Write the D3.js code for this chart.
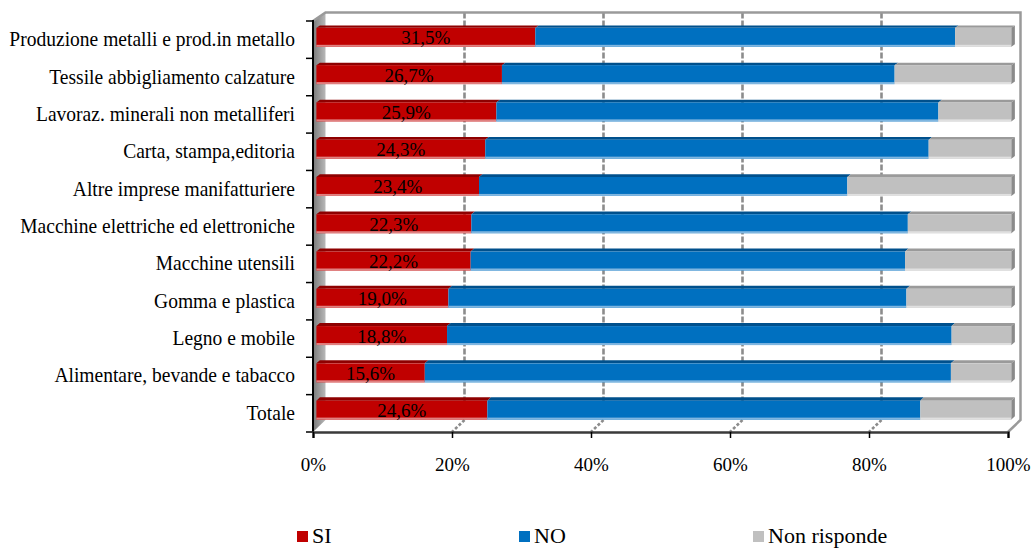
<!DOCTYPE html>
<html>
<head>
<meta charset="utf-8">
<script src="https://cdn.jsdelivr.net/npm/d3@7"></script>
<style>
  body { margin: 0; background: #fff; }
  svg { display: block; }
  text { font-family: "Liberation Serif", "Times New Roman", serif; fill: #000; }
</style>
</head>
<body>
<svg id="chart" width="1032" height="549"></svg>
<script>
// Sectors, top to bottom
const categories = [
  "Produzione metalli e prod.in metallo",
  "Tessile abbigliamento calzature",
  "Lavoraz. minerali non metalliferi",
  "Carta, stampa,editoria",
  "Altre imprese manifatturiere",
  "Macchine elettriche ed elettroniche",
  "Macchine utensili",
  "Gomma e plastica",
  "Legno e mobile",
  "Alimentare, bevande e tabacco",
  "Totale"
];
// Shares (%) of answers per sector
const si  = [31.5, 26.7, 25.9, 24.3, 23.4, 22.3, 22.2, 19.0, 18.8, 15.6, 24.6];
const no  = [60.4, 56.5, 63.6, 63.8, 53.0, 62.8, 62.5, 65.9, 72.6, 75.7, 62.3];
const nr  = [ 8.1, 16.8, 10.5, 11.9, 23.6, 14.9, 15.3, 15.1,  8.6,  8.7, 13.1];
const seriesNames = ["SI", "NO", "Non risponde"];
const tickValues = [0, 20, 40, 60, 80, 100];
const tickLabels = ["0%", "20%", "40%", "60%", "80%", "100%"];

const colors = {
  front: ["#C00000", "#0070C0", "#C0C0C0"],
  top:   ["#8E0000", "#00508C", "#9A9A9A"],
  lite:  ["#E08080", "#7FB6E0", "#E0E0E0"],
  side:  "#8A8A8A"
};

const svg = d3.select("#chart");
const x = d3.scaleLinear().domain([0, 100]).range([313, 1008]);
const y = d3.scaleBand().domain(categories).range([21, 432]);

// depth offset of the box (back plane relative to front plane), slightly perspective in y
const DX = 12.5;
const depthDy = yy => -8.5 - 3.5 * (yy - 21) / 411;
const P = (xx, yy, d) => [xx + d * DX, yy + d * depthDy(yy)];

const yTop = 21, yBot = 432;
const x0 = x(0), x1 = x(100);

// gradient for left side wall
const defs = svg.append("defs");
const g1 = defs.append("linearGradient").attr("id", "wallGrad").attr("x1", 0).attr("x2", 1).attr("y1", 0).attr("y2", 0);
g1.append("stop").attr("offset", "0%").attr("stop-color", "#7a7a7a");
g1.append("stop").attr("offset", "100%").attr("stop-color", "#b8b8b8");

const poly = pts => pts.map(p => p.join(",")).join(" ");

// left side wall
svg.append("polygon")
  .attr("points", poly([[x0, yTop], P(x0, yTop, 1), P(x0, yBot, 1), [x0, yBot]]))
  .attr("fill", "url(#wallGrad)");

// back wall gridlines (dashed) and their trace across the floor
const grid = svg.append("g").attr("stroke", "#8c8c8c").attr("stroke-width", 2.6)
  .attr("stroke-dasharray", "6,2").attr("fill", "none");
tickValues.filter(v => v > 0 && v < 100).forEach(v => {
  const a = P(x(v), yTop, 1), b = P(x(v), yBot, 1);
  grid.append("line").attr("x1", a[0]).attr("y1", a[1]).attr("x2", b[0]).attr("y2", b[1]);
  grid.append("line").attr("x1", b[0]).attr("y1", b[1]).attr("x2", x(v)).attr("y2", yBot)
    .attr("stroke-dasharray", "3,2");
});

// back wall frame: top edge, right edge, floor-right diagonal
const frame = svg.append("g").attr("stroke", "#9a9a9a").attr("fill", "none");
frame.append("polyline").attr("stroke-width", 2.5)
  .attr("points", poly([[x0, yTop], P(x0, yTop, 1), P(x1, yTop, 1), P(x1, yBot, 1), [x1, yBot]]));

// stacked bars
const rows = categories.map((c, i) => {
  const vals = [si[i], no[i], nr[i]];
  let acc = 0;
  return vals.map((v, k) => { const s = { cat: c, k, a: acc, b: acc + v, v }; acc += v; return s; });
});

const d0 = 0.27, d1 = 0.55, barH = 19;
const bars = svg.append("g");
rows.forEach(segs => {
  const yc = y(segs[0].cat) + y.bandwidth() / 2;
  const yt = yc - barH / 2, yb = yc + barH / 2;
  segs.forEach((s, idx) => {
    const fa = P(x(s.a), yt, d0), fb = P(x(s.b), yt, d0);
    const ba = P(x(s.a), yt, d1), bb = P(x(s.b), yt, d1);
    const fbB = P(x(s.b), yb, d0);
    // top face
    bars.append("polygon").attr("points", poly([fa, fb, bb, ba])).attr("fill", colors.top[s.k]);
    // front face
    bars.append("rect")
      .attr("x", fa[0]).attr("y", fa[1])
      .attr("width", fb[0] - fa[0]).attr("height", fbB[1] - fb[1])
      .attr("fill", colors.front[s.k]);
    // light lower edge
    bars.append("rect")
      .attr("x", fa[0]).attr("y", fbB[1] - 2)
      .attr("width", fb[0] - fa[0]).attr("height", 2)
      .attr("fill", colors.lite[s.k]);
    // right end face on the last segment
    if (idx === segs.length - 1) {
      const bbB = P(x(s.b), yb, d1);
      bars.append("polygon").attr("points", poly([fb, bb, bbB, fbB])).attr("fill", colors.side);
    }
  });
  // value label on the SI segment
  const s = segs[0];
  const la = P(x(s.a), yc, d0), lb = P(x(s.b), yc, d0);
  bars.append("text")
    .attr("x", (la[0] + lb[0]) / 2)
    .attr("y", la[1] + 7)
    .attr("text-anchor", "middle")
    .style("font-size", "19px")
    .text(s.v.toFixed(1).replace(".", ",") + "%");
});

// category axis (left)
svg.append("line").attr("x1", x0).attr("x2", x0).attr("y1", yTop - 1).attr("y2", yBot)
  .attr("stroke", "#000").attr("stroke-width", 2);
const boundaries = categories.map(c => y(c)).concat([yBot]);
svg.append("g").selectAll("line").data(boundaries).join("line")
  .attr("x1", x0 - 7).attr("x2", x0).attr("y1", d => d).attr("y2", d => d)
  .attr("stroke", "#000").attr("stroke-width", 1.5);
svg.append("g").selectAll("text").data(categories).join("text")
  .attr("transform", d => `translate(295,${y(d) + y.bandwidth() / 2 + 6.5}) scale(0.93,1)`)
  .attr("text-anchor", "end")
  .style("font-size", "21px")
  .text(d => d);

// value axis (bottom)
const xAxis = d3.axisBottom(x).tickValues(tickValues)
  .tickFormat((d, i) => tickLabels[i]).tickSize(6).tickPadding(20);
const xg = svg.append("g").attr("transform", `translate(0,${yBot})`).call(xAxis);
xg.select(".domain").attr("stroke", "#3a3a3a").attr("stroke-width", 2.5);
xg.selectAll(".tick line").attr("stroke", "#000").attr("stroke-width", 1.5);
xg.selectAll(".tick text").style("font-size", "19px").attr("font-family", null);

// legend
const legendX = [297, 519, 753];
const lg = svg.append("g");
seriesNames.forEach((n, k) => {
  lg.append("rect").attr("x", legendX[k]).attr("y", 531).attr("width", 11).attr("height", 11)
    .attr("fill", colors.front[k]);
  lg.append("text").attr("x", legendX[k] + 15).attr("y", 543)
    .style("font-size", "22px").text(n);
});
</script>
</body>
</html>
